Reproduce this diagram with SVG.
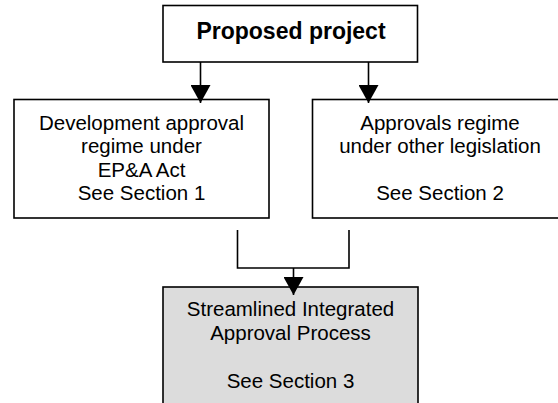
<svg xmlns="http://www.w3.org/2000/svg" width="558" height="403" viewBox="0 0 558 403">
<style>
.box{fill:#fff;stroke:#000;stroke-width:1.6}
.grey{fill:#dcdcdc}
.t{font-family:"Liberation Sans",Arial,sans-serif;font-size:20.5px;fill:#000;text-anchor:middle}
.b{font-weight:bold;font-size:23px}
.c{fill:none;stroke:#000;stroke-width:1.6}
</style>
<defs>
<marker id="ah" viewBox="0 0 18 20" refX="18" refY="10" markerWidth="18" markerHeight="20" markerUnits="userSpaceOnUse" orient="auto">
<path d="M0,0 L18,10 L0,20 z" fill="#000"/>
</marker>
</defs>
<rect width="558" height="403" fill="#fff"/>
<g id="node-proposed">
<rect class="box" x="163" y="5.5" width="254.5" height="56.5"/>
<text class="t b" x="291" y="39">Proposed project</text>
</g>
<g id="node-epa">
<rect class="box" x="14" y="99.5" width="255" height="118.5"/>
<text class="t" x="141.5" y="129.5">Development approval</text>
<text class="t" x="141.5" y="153">regime under</text>
<text class="t" x="141.5" y="176.5">EP&amp;A Act</text>
<text class="t" x="141.5" y="200">See Section 1</text>
</g>
<g id="node-other">
<rect class="box" x="312.5" y="99.5" width="256" height="118.5"/>
<text class="t" x="440" y="129.5">Approvals regime</text>
<text class="t" x="440" y="153">under other legislation</text>
<text class="t" x="440" y="200">See Section 2</text>
</g>
<g id="node-streamlined">
<rect class="box grey" x="163" y="287" width="255" height="130"/>
<text class="t" x="290.5" y="316">Streamlined Integrated</text>
<text class="t" x="290.5" y="340">Approval Process</text>
<text class="t" x="290.5" y="387.5">See Section 3</text>
</g>
<g id="connectors">
<line class="c" x1="200.5" y1="62" x2="200.5" y2="103" marker-end="url(#ah)"/>
<line class="c" x1="368.5" y1="62" x2="368.5" y2="103" marker-end="url(#ah)"/>
<polyline class="c" points="237.5,230 237.5,268 349,268 349,230"/>
<line class="c" x1="293.5" y1="268" x2="293.5" y2="295" marker-end="url(#ah)"/>
</g>
</svg>
